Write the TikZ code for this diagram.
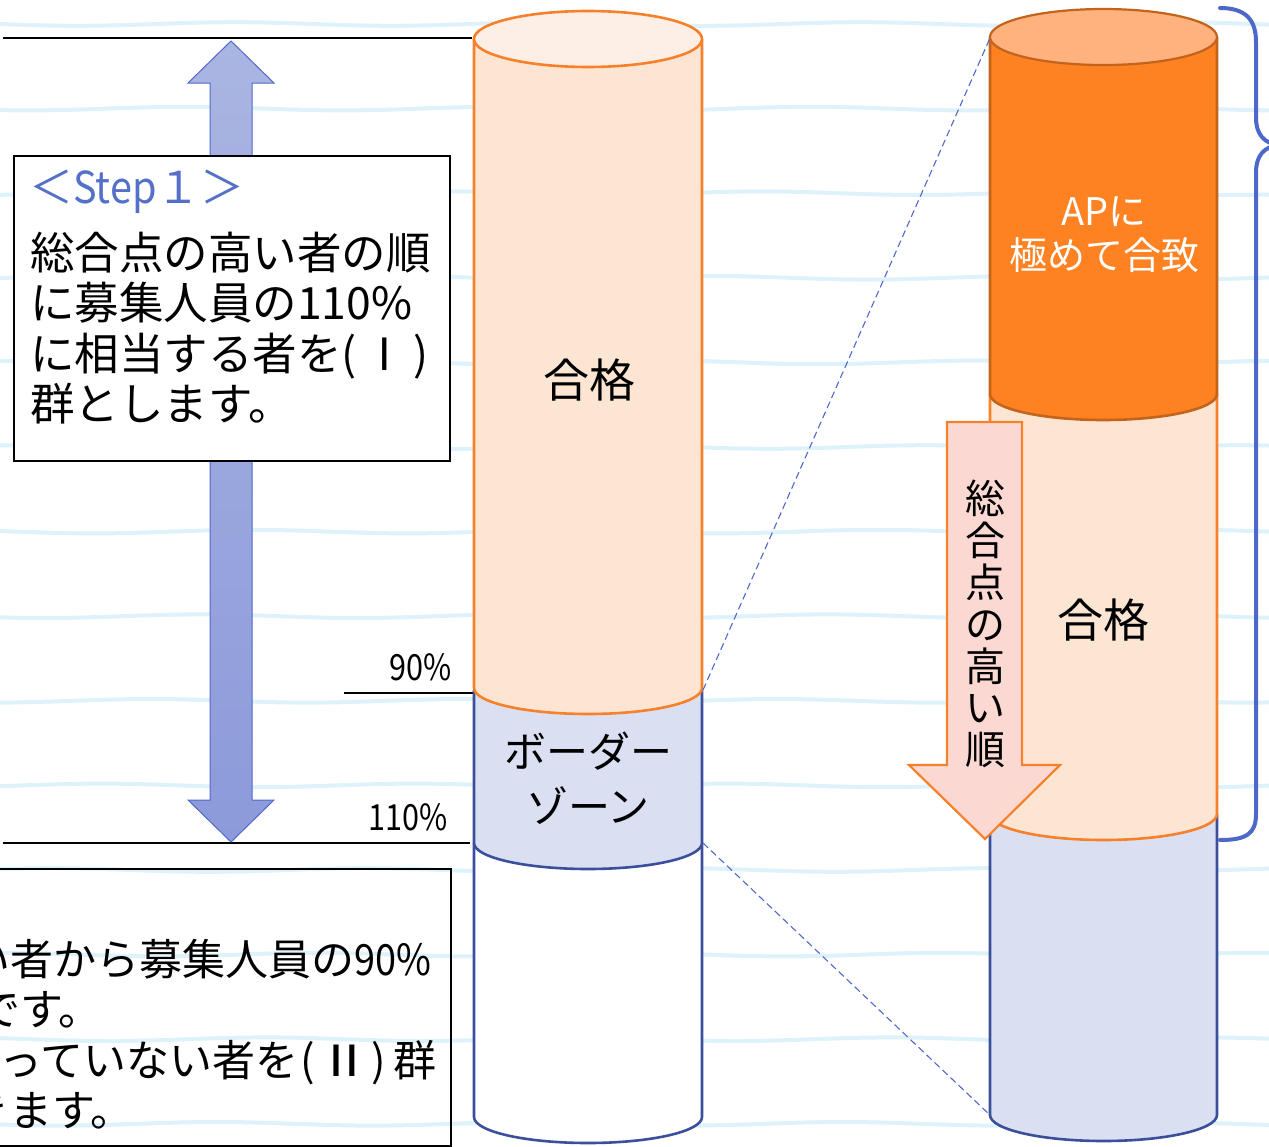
\documentclass[tikz,border=0pt]{standalone}
\usepackage{fontspec}
\setmainfont{Noto Sans CJK JP}
\definecolor{bgline}{HTML}{DDF2FB}
\definecolor{peach}{HTML}{FDE5D3}
\definecolor{peachtop}{HTML}{FDEFE5}
\definecolor{orangeline}{HTML}{F7812A}
\definecolor{bluefill}{HTML}{DAE0F2}
\definecolor{blueline}{HTML}{3B4F9C}
\definecolor{darkorange}{HTML}{FE8122}
\definecolor{darkorangetop}{HTML}{FFB27D}
\definecolor{darkorangeline}{HTML}{C3631C}
\definecolor{pinkfill}{HTML}{FBD9D2}
\definecolor{bracecol}{HTML}{4D68C9}
\definecolor{steptext}{HTML}{5470C8}
\definecolor{arrowtop}{HTML}{AAB5E2}
\definecolor{arrowbot}{HTML}{8C9ADA}
\definecolor{arrowline}{HTML}{5068CC}
\newcommand{\CylPart}[7]{\path[fill=#6, draw=#7, line width=2.6pt, line join=round] (#1,#3) -- (#1,#4) arc[start angle=180, end angle=360, x radius=#5pt, y radius=26pt] -- (#2,#3);}
\begin{document}
\begin{tikzpicture}[x=1pt, y=-1pt,
  jp/.style={font=\fontsize{44.5}{50.5}\selectfont, inner sep=0pt},
  jpb/.style={font=\fontsize{43}{50.5}\selectfont, inner sep=0pt},
  pct/.style={font=\fontsize{36}{36}\selectfont, inner sep=0pt, anchor=base east},
  rule/.style={black, line width=2.6pt},
  guide/.style={arrowline, line width=1.1pt, dash pattern=on 7pt off 4pt}]
\clip (0,0) rectangle (1269,1146);
% background wavy lines
\foreach \k in {0,...,13}{
  \draw[bgline, line width=4pt] plot[variable=\t, domain=0:1269, samples=90, smooth] (\t, {24+84.6*\k + 1.8*sin(1.15*\t + 57*\k)});
}
% horizontal rules
\coordinate (topL) at (3,38);  \coordinate (topR) at (472,38);
\coordinate (botL) at (3,843); \coordinate (botR) at (470,843);
\coordinate (n90L) at (344,693); \coordinate (n90R) at (474,693);
\draw[rule] (topL) -- (topR);
\draw[rule] (botL) -- (botR);
\draw[rule, line width=2.2pt] (n90L) -- (n90R);
% double block arrow
\path[draw=arrowline, line width=1pt, top color=arrowtop, bottom color=arrowbot]
  (231,41) -- (274,83) -- (252,83) -- (252,800) -- (274,800) -- (231,842) -- (188,800) -- (210,800) -- (210,83) -- (188,83) -- cycle;
% step 1 box
\node[draw, line width=2.4pt, fill=white, minimum width=436pt, minimum height=305pt, anchor=north west, inner sep=0pt] (stepbox) at (13,155) {};
\node[anchor=base west, text=steptext, font=\fontsize{44}{50}\selectfont, inner sep=0pt] (steptitle) at (29,203) {＜\scalebox{0.9}[1]{Step}１＞};
\node[jp, anchor=base west, align=left] (steptext) at (30,420.5) {総合点の高い者の順\\に募集人員の110\%\\に相当する者を(\hspace{6pt}Ⅰ\hspace{6pt})\\群とします。};
% step 2 box (cut off at left)
\node[draw, line width=1.6pt, minimum width=480pt, minimum height=277pt, anchor=north east, inner sep=0pt] (step2box) at (452,868) {};
\node[jpb, anchor=base east] (b1) at (432,975) {い者から募集人員の\scalebox{0.88}[1]{90\%}};
\node[jpb, anchor=base west] (b2) at (-23,1025) {です。};
\node[jpb, anchor=base west] (b3) at (-1,1076) {っていない者を\hspace{2pt}(\hspace{3pt}\scalebox{1.25}[1]{Ⅱ})\hspace{8pt}群};
\node[jpb, anchor=base west] (b4) at (-34,1126) {きます。};
% percent labels
\node[pct] (p90) at (452,680) {\scalebox{0.85}[1]{90\%}};
\node[pct] (p110) at (448,830) {\scalebox{0.85}[1]{110\%}};
% left cylinder
\CylPart{474}{702}{843}{1117}{114}{white}{blueline}
\CylPart{474}{702}{690}{843}{114}{bluefill}{blueline}
\CylPart{474}{702}{39}{688}{114}{peach}{orangeline}
\path[fill=peachtop, draw=orangeline, line width=2.6pt] (588,39) ellipse[x radius=114pt, y radius=28pt];
% right cylinder
\CylPart{990}{1217}{814}{1115}{113.5}{bluefill}{blueline}
\CylPart{990}{1217}{394}{814}{113.5}{peach}{orangeline}
\CylPart{990}{1217}{37}{394}{113.5}{darkorange}{darkorangeline}
\path[fill=darkorangetop, draw=darkorangeline, line width=2.2pt] (1103.5,37) ellipse[x radius=113.5pt, y radius=28pt];
% dashed guides
\coordinate (lc90) at (703,690); \coordinate (rctop) at (990,38);
\coordinate (lc110) at (703,843); \coordinate (rcbot) at (990,1115);
\draw[guide] (lc90) -- (rctop);
\draw[guide] (lc110) -- (rcbot);
% pink arrow
\path[fill=pinkfill, draw=orangeline, line width=2.2pt, line join=miter]
  (947,422) -- (1022,422) -- (1022,765) -- (1060,765) -- (985,839) -- (909,765) -- (947,765) -- cycle;
\node[font=\fontsize{40}{41.9}\selectfont, align=center, inner sep=0pt] (vtext) at (985,624) {総\\合\\点\\の\\高\\い\\順};
% brace
\draw[bracecol, line width=4pt, line cap=round] (1220,8) .. controls (1246,8) and (1256,20) .. (1256,42) -- (1256,118) .. controls (1256,134) and (1264,144) .. (1280,145) .. controls (1264,146) and (1256,156) .. (1256,172) -- (1256,814) .. controls (1256,834) and (1246,840) .. (1220,840);
% cylinder texts
\node[font=\fontsize{46}{50}\selectfont, inner sep=0pt] (pass1) at (589,380) {合格};
\node[font=\fontsize{42}{55}\selectfont, align=center, inner sep=0pt] (border) at (588,778) {ボーダー\\ゾーン};
\node[font=\fontsize{46}{50}\selectfont, inner sep=0pt] (pass2) at (1103,620) {合格};
\node[text=white, font=\fontsize{38}{44}\selectfont, align=center, inner sep=0pt] (ap) at (1104,235) {APに\\極めて合致};
\end{tikzpicture}
\end{document}
